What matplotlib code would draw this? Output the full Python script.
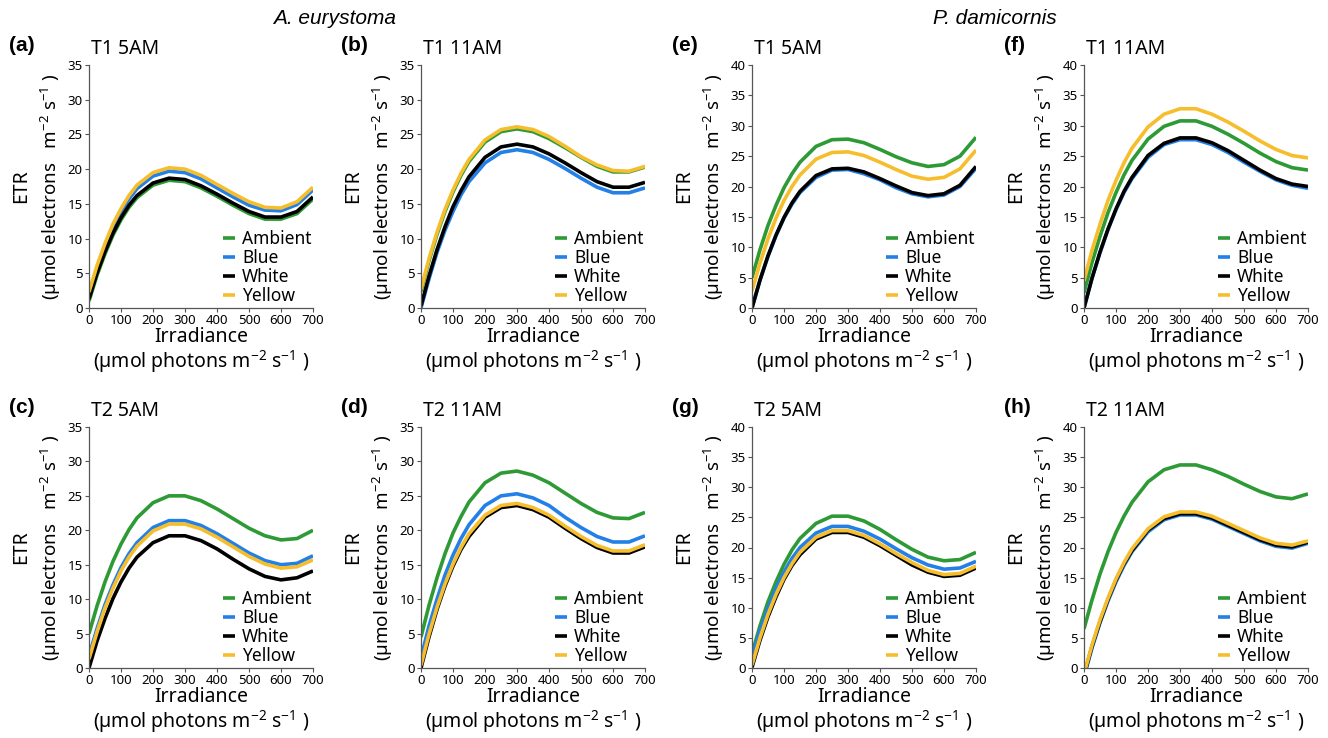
import matplotlib
matplotlib.use('Agg')
import matplotlib.pyplot as plt

plt.rcParams['font.family'] = ['Noto Sans', 'DejaVu Sans']
plt.rcParams['mathtext.fontset'] = 'custom'
plt.rcParams['mathtext.rm'] = 'Noto Sans'
plt.rcParams['mathtext.default'] = 'regular'

irradiance = [0, 25, 50, 75, 100, 125, 150, 200, 250, 300, 350, 400, 450, 500, 550, 600, 650, 700]
x_ticks = [0, 100, 200, 300, 400, 500, 600, 700]

# (a) A. eurystoma T1 5AM
a_ambient = [1.0, 4.7, 7.8, 10.5, 12.7, 14.5, 15.9, 17.7, 18.4, 18.2, 17.3, 16.1, 14.8, 13.6, 12.8, 12.8, 13.6, 15.7]
a_blue = [2.0, 5.7, 8.9, 11.7, 13.9, 15.7, 17.2, 19.0, 19.7, 19.5, 18.6, 17.3, 16.0, 14.8, 14.1, 14.0, 14.9, 17.0]
a_white = [1.3, 5.0, 8.1, 10.8, 13.0, 14.8, 16.2, 18.0, 18.7, 18.5, 17.6, 16.4, 15.1, 13.9, 13.1, 13.1, 13.9, 16.0]
a_yellow = [2.3, 6.1, 9.3, 12.1, 14.3, 16.2, 17.7, 19.5, 20.2, 20.0, 19.1, 17.8, 16.5, 15.3, 14.5, 14.4, 15.3, 17.4]

# (b) A. eurystoma T1 11AM
b_ambient = [2.4, 6.8, 10.6, 13.9, 16.7, 19.1, 21.1, 23.9, 25.4, 25.8, 25.4, 24.4, 23.1, 21.7, 20.4, 19.6, 19.6, 20.3]
b_blue = [0.0, 4.2, 8.0, 11.2, 13.9, 16.3, 18.2, 20.9, 22.4, 22.8, 22.4, 21.4, 20.1, 18.7, 17.4, 16.6, 16.6, 17.3]
b_white = [0.3, 4.6, 8.4, 11.7, 14.6, 16.9, 18.9, 21.7, 23.2, 23.6, 23.2, 22.2, 20.9, 19.5, 18.2, 17.4, 17.4, 18.1]
b_yellow = [2.7, 7.1, 10.9, 14.2, 17.0, 19.4, 21.4, 24.2, 25.7, 26.1, 25.7, 24.7, 23.3, 21.8, 20.6, 19.8, 19.7, 20.4]

# (c) A. eurystoma T2 5AM
c_ambient = [5.0, 9.0, 12.5, 15.5, 18.0, 20.1, 21.8, 24.0, 25.0, 25.0, 24.3, 23.1, 21.7, 20.3, 19.2, 18.6, 18.8, 20.0]
c_blue = [1.8, 5.7, 9.2, 12.1, 14.6, 16.6, 18.2, 20.4, 21.4, 21.4, 20.7, 19.5, 18.1, 16.7, 15.6, 15.0, 15.2, 16.3]
c_white = [0.0, 3.9, 7.2, 10.1, 12.5, 14.5, 16.1, 18.2, 19.2, 19.2, 18.5, 17.3, 15.8, 14.4, 13.3, 12.8, 13.1, 14.1]
c_yellow = [1.3, 5.2, 8.7, 11.6, 14.1, 16.1, 17.7, 19.9, 20.9, 20.9, 20.2, 19.0, 17.6, 16.2, 15.1, 14.5, 14.7, 15.7]

# (d) A. eurystoma T2 11AM
d_ambient = [4.5, 9.1, 13.1, 16.6, 19.6, 22.0, 24.1, 26.9, 28.3, 28.6, 28.0, 26.9, 25.4, 23.9, 22.6, 21.8, 21.7, 22.6]
d_blue = [1.5, 6.1, 10.0, 13.5, 16.4, 18.8, 20.8, 23.6, 25.0, 25.3, 24.7, 23.6, 21.9, 20.4, 19.1, 18.3, 18.3, 19.2]
d_white = [0.0, 4.5, 8.5, 11.9, 14.8, 17.2, 19.1, 21.9, 23.3, 23.6, 23.0, 21.9, 20.3, 18.8, 17.5, 16.7, 16.7, 17.6]
d_yellow = [0.4, 4.9, 8.8, 12.2, 15.1, 17.5, 19.5, 22.2, 23.6, 23.9, 23.3, 22.2, 20.6, 19.1, 17.8, 17.0, 17.0, 17.9]

# (e) P. damicornis T1 5AM
e_ambient = [5.0, 9.6, 13.6, 16.9, 19.8, 22.1, 24.0, 26.6, 27.7, 27.8, 27.2, 26.1, 24.9, 23.9, 23.3, 23.6, 25.0, 28.1]
e_blue = [0.0, 4.6, 8.5, 11.9, 14.8, 17.1, 19.0, 21.5, 22.7, 22.8, 22.1, 21.1, 19.8, 18.8, 18.3, 18.6, 20.0, 23.0]
e_white = [0.0, 4.6, 8.6, 12.0, 14.9, 17.3, 19.2, 21.8, 22.9, 23.0, 22.4, 21.3, 20.1, 19.0, 18.5, 18.8, 20.2, 23.3]
e_yellow = [2.8, 7.4, 11.4, 14.8, 17.7, 20.0, 21.9, 24.5, 25.6, 25.7, 25.1, 24.0, 22.8, 21.7, 21.2, 21.5, 22.9, 26.0]

# (f) P. damicornis T1 11AM
f_ambient = [2.5, 7.5, 11.8, 15.7, 19.0, 21.9, 24.3, 27.8, 29.9, 30.8, 30.8, 29.9, 28.6, 27.1, 25.5, 24.1, 23.1, 22.7]
f_blue = [0.0, 4.9, 9.1, 12.9, 16.2, 19.0, 21.3, 24.8, 26.9, 27.7, 27.7, 26.9, 25.6, 24.0, 22.5, 21.1, 20.2, 19.7]
f_white = [0.0, 4.9, 9.2, 13.0, 16.3, 19.2, 21.5, 25.1, 27.1, 28.0, 28.0, 27.2, 25.9, 24.3, 22.7, 21.3, 20.4, 20.0]
f_yellow = [4.5, 9.5, 13.8, 17.7, 21.0, 23.9, 26.3, 29.8, 31.9, 32.8, 32.8, 31.9, 30.6, 29.1, 27.5, 26.1, 25.1, 24.7]

# (g) P. damicornis T2 5AM
g_ambient = [2.4, 7.0, 11.0, 14.3, 17.2, 19.6, 21.5, 24.0, 25.2, 25.2, 24.4, 23.0, 21.3, 19.7, 18.4, 17.8, 18.0, 19.2]
g_blue = [1.8, 6.2, 9.9, 13.2, 15.9, 18.2, 20.0, 22.4, 23.5, 23.5, 22.7, 21.4, 19.8, 18.3, 17.1, 16.4, 16.6, 17.7]
g_white = [0.1, 4.6, 8.5, 11.8, 14.7, 17.0, 18.8, 21.4, 22.5, 22.5, 21.7, 20.3, 18.7, 17.1, 15.9, 15.2, 15.4, 16.6]
g_yellow = [0.5, 5.0, 8.9, 12.2, 15.0, 17.3, 19.2, 21.7, 22.8, 22.8, 22.0, 20.6, 19.0, 17.5, 16.2, 15.5, 15.7, 16.9]

# (h) P. damicornis T2 11AM
h_ambient = [6.5, 11.3, 15.6, 19.3, 22.5, 25.2, 27.5, 30.9, 32.9, 33.7, 33.7, 32.9, 31.8, 30.5, 29.3, 28.4, 28.1, 28.9]
h_blue = [-1.5, 3.3, 7.5, 11.1, 14.3, 17.0, 19.3, 22.6, 24.6, 25.4, 25.4, 24.7, 23.5, 22.3, 21.1, 20.2, 19.9, 20.7]
h_white = [-1.2, 3.6, 7.7, 11.4, 14.6, 17.3, 19.5, 22.9, 24.8, 25.6, 25.6, 24.9, 23.7, 22.5, 21.3, 20.4, 20.1, 20.9]
h_yellow = [-1.0, 3.8, 8.0, 11.6, 14.8, 17.5, 19.8, 23.1, 25.1, 25.9, 25.9, 25.2, 24.0, 22.8, 21.6, 20.7, 20.4, 21.1]

treatments = ['Ambient', 'Blue', 'White', 'Yellow']
colors = ['#2e9a35', '#2280e6', '#000000', '#f6be2c']

panels = [
    ('(a)', 'T1 5AM', 35, [a_ambient, a_blue, a_white, a_yellow]),
    ('(b)', 'T1 11AM', 35, [b_ambient, b_blue, b_white, b_yellow]),
    ('(e)', 'T1 5AM', 40, [e_ambient, e_blue, e_white, e_yellow]),
    ('(f)', 'T1 11AM', 40, [f_ambient, f_blue, f_white, f_yellow]),
    ('(c)', 'T2 5AM', 35, [c_ambient, c_blue, c_white, c_yellow]),
    ('(d)', 'T2 11AM', 35, [d_ambient, d_blue, d_white, d_yellow]),
    ('(g)', 'T2 5AM', 40, [g_ambient, g_blue, g_white, g_yellow]),
    ('(h)', 'T2 11AM', 40, [h_ambient, h_blue, h_white, h_yellow]),
]

W, H = 1328, 738
fig = plt.figure(figsize=(W / 100, H / 100), dpi=100)

lefts = [89, 421, 752, 1084]
rows = [(65, 308), (427, 668)]

for i, (tag, title, ymax, series) in enumerate(panels):
    r, c = divmod(i, 4)
    top, bot = rows[r]
    ax = fig.add_axes([lefts[c] / W, 1 - bot / H, 224 / W, (bot - top) / H])

    for vals, name, col in zip(series, treatments, colors):
        ax.plot(irradiance, vals, color=col, lw=2.6, label=name, solid_capstyle='butt')

    ax.set_xlim(0, 700)
    ax.set_ylim(0, ymax)
    ax.set_xticks(x_ticks)
    ax.set_yticks(range(0, ymax + 1, 5))
    for s in ['top', 'right']:
        ax.spines[s].set_visible(False)
    for s in ['left', 'bottom']:
        ax.spines[s].set_color('#555555')
        ax.spines[s].set_linewidth(0.9)
    ax.tick_params(axis='both', labelsize=9.5, length=3, width=0.8, color='#555555', pad=1.5)

    ax.set_xlabel('Irradiance', fontsize=14, labelpad=0)
    ax.text(0.5, -0.222, '(µmol photons m$^{-2}$ s$^{-1}$ )', transform=ax.transAxes,
            ha='center', va='center', fontsize=14)
    ax.text(-0.305, 0.5, 'ETR', transform=ax.transAxes, rotation=90,
            ha='center', va='center', fontsize=14)
    ax.text(-0.168, 0.5, '(µmol electrons   m$^{-2}$ s$^{-1}$ )', transform=ax.transAxes,
            rotation=90, ha='center', va='center', fontsize=13.5)

    ax.text(0.01, 1.025, title, transform=ax.transAxes, ha='left', va='bottom', fontsize=14)
    ax.text(-0.355, 1.04, tag, transform=ax.transAxes, ha='left', va='bottom',
            fontsize=15, fontweight='bold', family='Liberation Sans')

    ax.legend(loc='lower right', bbox_to_anchor=(1.04, -0.03), frameon=False,
              fontsize=12.5, handlelength=0.7, handletextpad=0.4, labelspacing=0.05,
              borderaxespad=0.2)

fig.text(335 / W, 1 - 18 / H, 'A. eurystoma', ha='center', va='center',
         fontsize=15, style='italic', family='Liberation Sans')
fig.text(995 / W, 1 - 18 / H, 'P. damicornis', ha='center', va='center',
         fontsize=15, style='italic', family='Liberation Sans')

fig.savefig('out.png', dpi=100)
